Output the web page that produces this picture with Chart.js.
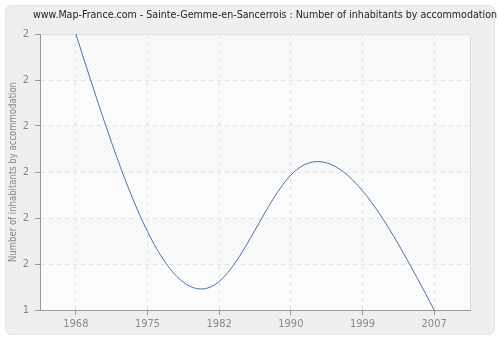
<!DOCTYPE html>
<html>
<head>
<meta charset="utf-8">
<script src="https://cdn.jsdelivr.net/npm/chart.js@4/dist/chart.umd.min.js"></script>
<style>
  html, body { margin: 0; padding: 0; background: #ffffff; }
  #wrap { width: 500px; height: 340px; }
</style>
</head>
<body>
<div id="wrap"><canvas id="grafico" width="500" height="340"></canvas></div>
<script>
const years = ['1968', '1975', '1982', '1990', '1999', '2007'];
const inhabitants = [2.0, 1.284, 1.103, 1.489, 1.432, 1.0];
const yTickValues = [1, 7 / 6, 8 / 6, 9 / 6, 10 / 6, 11 / 6, 2];
const yTickLabels = ['1', '2', '2', '2', '2', '2', '2'];

const titleText = 'www.Map-France.com - Sainte-Gemme-en-Sancerrois : Number of inhabitants by accommodation';
const yTitle = 'Number of inhabitants by accommodation';
const fontFam = '"DejaVu Sans Condensed", "DejaVu Sans", sans-serif';

// draw text scaled to a given width
function fitText(c, txt, x, y, w, size) {
    c.font = size + 'px ' + fontFam;
    const m = c.measureText(txt).width;
    c.save();
    c.translate(x, y);
    c.scale(w / m, 1);
    c.fillText(txt, 0, 0);
    c.restore();
}

// natural cubic spline through the points the line element already placed
const naturalSpline = {
    id: 'naturalSpline',
    afterDatasetUpdate(chart, args) {
        const meta = args.meta;
        const line = meta.dataset;
        line.updateControlPoints(chart.chartArea);
        const pts = meta.data;
        const n = pts.length - 1;
        const h = pts[1].x - pts[0].x;
        const ys = pts.map(p => p.y);
        const M = new Array(n + 1).fill(0);
        // tridiagonal solve
        const a = [], b = [], cc = [], d = [];
        for (let i = 1; i < n; i++) {
            a.push(1); b.push(4); cc.push(1);
            d.push(6 / (h * h) * (ys[i + 1] - 2 * ys[i] + ys[i - 1]));
        }
        const m = d.length;
        for (let i = 1; i < m; i++) {
            const w = a[i] / b[i - 1];
            b[i] -= w * cc[i - 1];
            d[i] -= w * d[i - 1];
        }
        const sol = new Array(m);
        sol[m - 1] = d[m - 1] / b[m - 1];
        for (let i = m - 2; i >= 0; i--) sol[i] = (d[i] - cc[i] * sol[i + 1]) / b[i];
        for (let i = 1; i < n; i++) M[i] = sol[i - 1];
        for (let i = 0; i <= n; i++) {
            let s;
            if (i < n) s = (ys[i + 1] - ys[i]) / h - h * (2 * M[i] + M[i + 1]) / 6;
            else s = (ys[n] - ys[n - 1]) / h + h * (M[n - 1] + 2 * M[n]) / 6;
            const p = pts[i];
            p.cp1x = p.x - h / 3; p.cp1y = p.y - s * h / 3;
            p.cp2x = p.x + h / 3; p.cp2y = p.y + s * h / 3;
        }
    }
};

// panel, hatched plot background and texts
const decor = {
    id: 'decor',
    beforeDraw(chart) {
        const c = chart.ctx;
        const a = chart.chartArea;
        c.save();
        c.fillStyle = '#ffffff';
        c.fillRect(0, 0, chart.width, chart.height);
        c.beginPath();
        c.roundRect(5.5, 5.5, 489, 329, 6);
        c.fillStyle = '#efefef';
        c.fill();
        c.strokeStyle = '#e2e2e2';
        c.lineWidth = 1;
        c.stroke();

        c.fillStyle = '#fbfbfb';
        c.fillRect(a.left, a.top, a.right - a.left, a.bottom - a.top);
        const y = chart.scales.y;
        for (let i = 0; i < yTickValues.length - 1; i++) {
            if (i % 2 === 0) continue;
            const y1 = y.getPixelForValue(yTickValues[i + 1]);
            const y0 = y.getPixelForValue(yTickValues[i]);
            c.save();
            c.beginPath();
            c.rect(a.left, y1, a.right - a.left, y0 - y1);
            c.clip();
            c.strokeStyle = '#f0f0f0';
            c.lineWidth = 1;
            for (let x = a.left - 60; x < a.right + 10; x += 4) {
                c.beginPath();
                c.moveTo(x, y0);
                c.lineTo(x + (y0 - y1), y1);
                c.stroke();
            }
            c.restore();
        }
        c.strokeStyle = '#dddddd';
        c.strokeRect(a.left + 0.5, a.top + 0.5, a.right - a.left, a.bottom - a.top);

        c.textAlign = 'left';
        c.textBaseline = 'middle';
        c.fillStyle = '#222222';
        fitText(c, titleText, 33, 15, 464, 11);

        c.fillStyle = '#888888';
        c.translate(13, (a.top + a.bottom) / 2);
        c.rotate(-Math.PI / 2);
        fitText(c, yTitle, -90, 0, 180, 10);
        c.restore();
    }
};

const ctx = document.getElementById('grafico');

new Chart(ctx, {
    type: 'line',
    data: {
        labels: years,
        datasets: [{
            data: inhabitants,
            borderColor: '#4a74aa',
            borderWidth: 1,
            pointRadius: 0,
            fill: false,
            tension: 0.4
        }]
    },
    plugins: [decor, naturalSpline],
    options: {
        responsive: false,
        animation: false,
        layout: { padding: { left: 0, right: 30, top: 34, bottom: 0 } },
        plugins: {
            legend: { display: false },
            tooltip: { enabled: false }
        },
        scales: {
            x: {
                type: 'category',
                offset: true,
                afterFit(s) { s.height = 30; },
                grid: {
                    offset: false,
                    color: '#e2e2e2',
                    tickColor: '#999999',
                    tickLength: 5
                },
                border: { display: true, color: '#999999', dash: [4, 4] },
                ticks: {
                    color: '#888888',
                    font: { family: fontFam, size: 11 },
                    padding: 3,
                    maxRotation: 0
                }
            },
            y: {
                min: 1,
                max: 2,
                afterFit(s) { s.width = 40; },
                afterBuildTicks(s) {
                    s.ticks = yTickValues.map(v => ({ value: v }));
                },
                grid: {
                    color: '#e2e2e2',
                    tickColor: '#999999',
                    tickLength: 5
                },
                border: { display: true, color: '#999999', dash: [4, 4] },
                ticks: {
                    color: '#888888',
                    font: { family: fontFam, size: 11 },
                    padding: 6,
                    callback: (v, i) => yTickLabels[i]
                }
            }
        }
    }
});
</script>
</body>
</html>
